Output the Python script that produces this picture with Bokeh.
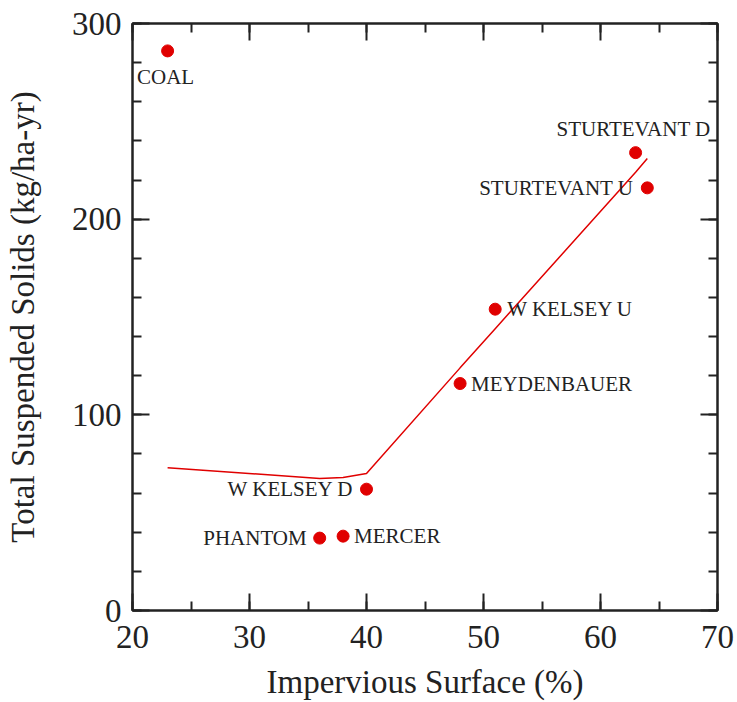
from bokeh.plotting import figure
from bokeh.models import ColumnDataSource, Range1d, LinearAxis, SingleIntervalTicker
from bokeh.core.properties import value
from bokeh.embed import file_html
from bokeh.resources import INLINE

# Catchment data: imperviousness vs. TSS loading
sites = ["COAL", "STURTEVANT D", "STURTEVANT U", "W KELSEY U",
         "MEYDENBAUER", "W KELSEY D", "PHANTOM", "MERCER"]
impervious = [23, 63, 64, 51, 48, 40, 36, 38]
tss = [286, 234, 216, 154, 116, 62, 37, 38]

# Smoothed trend line
trend_x = [23, 36, 38, 40, 48, 51, 63, 64]
trend_y = [73, 67.5, 68, 70, 124, 144, 224, 231]

# Label placement per site (pixel offsets from the point)
label_style = {
    "COAL":         dict(align="center", baseline="top",    dx=-2,  dy=14),
    "STURTEVANT D": dict(align="center", baseline="bottom", dx=-2,  dy=-12),
    "STURTEVANT U": dict(align="right",  baseline="middle", dx=-14, dy=0),
    "W KELSEY U":   dict(align="left",   baseline="middle", dx=12,  dy=0),
    "MEYDENBAUER":  dict(align="left",   baseline="middle", dx=11,  dy=0),
    "W KELSEY D":   dict(align="right",  baseline="middle", dx=-13, dy=0),
    "PHANTOM":      dict(align="right",  baseline="middle", dx=-13, dy=0),
    "MERCER":       dict(align="left",   baseline="middle", dx=11,  dy=0),
}

RED = "#e00000"
INK = "#222222"
FONT = "Liberation Serif"

src = ColumnDataSource(dict(
    x=impervious, y=tss, name=sites,
    align=[label_style[s]["align"] for s in sites],
    baseline=[label_style[s]["baseline"] for s in sites],
    dx=[label_style[s]["dx"] for s in sites],
    dy=[label_style[s]["dy"] for s in sites],
))

p = figure(
    frame_width=585, frame_height=587,
    x_range=Range1d(20, 70), y_range=Range1d(0, 300),
    output_backend="svg", toolbar_location=None,
    min_border_left=132, min_border_right=20,
    min_border_top=23, min_border_bottom=92,
    x_axis_label="Impervious Surface (%)",
    y_axis_label="Total Suspended Solids (kg/ha-yr)",
)
p.background_fill_color = "white"
p.border_fill_color = "white"
p.xgrid.visible = False
p.ygrid.visible = False
p.outline_line_color = INK
p.outline_line_width = 2

p.line(trend_x, trend_y, line_color=RED, line_width=1.5)
p.scatter("x", "y", source=src, size=12, fill_color=RED, line_color=RED)
p.text("x", "y", text="name", source=src,
       text_align="align", text_baseline="baseline",
       x_offset="dx", y_offset="dy",
       text_font=value(FONT), text_font_size="21px", text_color=INK)

p.xaxis.ticker = SingleIntervalTicker(interval=10, num_minor_ticks=2)
p.yaxis.ticker = SingleIntervalTicker(interval=100, num_minor_ticks=5)


def style_ticks(ax):
    ax.major_tick_in = 17
    ax.major_tick_out = 0
    ax.minor_tick_in = 9
    ax.minor_tick_out = 0
    ax.axis_line_color = INK
    ax.axis_line_width = 2
    ax.major_tick_line_color = INK
    ax.major_tick_line_width = 2
    ax.minor_tick_line_color = INK
    ax.minor_tick_line_width = 2


for ax in (p.xaxis[0], p.yaxis[0]):
    style_ticks(ax)
    ax.major_label_text_font = FONT
    ax.major_label_text_font_size = "33px"
    ax.major_label_text_color = INK
    ax.axis_label_text_font = FONT
    ax.axis_label_text_font_size = "33px"
    ax.axis_label_text_font_style = "normal"
    ax.axis_label_text_color = INK

p.xaxis.major_label_standoff = 15
p.xaxis.axis_label_standoff = 13
p.yaxis.major_label_standoff = 11
p.yaxis.axis_label_standoff = 28

# Mirror ticks on the top and right edges of the frame (no labels)
top = LinearAxis(ticker=SingleIntervalTicker(interval=10, num_minor_ticks=2))
right = LinearAxis(ticker=SingleIntervalTicker(interval=100, num_minor_ticks=5))
for ax in (top, right):
    style_ticks(ax)
    ax.major_label_text_color = None
    ax.major_label_standoff = 0
p.add_layout(top, "above")
p.add_layout(right, "right")

open("out.html", "w").write(file_html(p, INLINE))
